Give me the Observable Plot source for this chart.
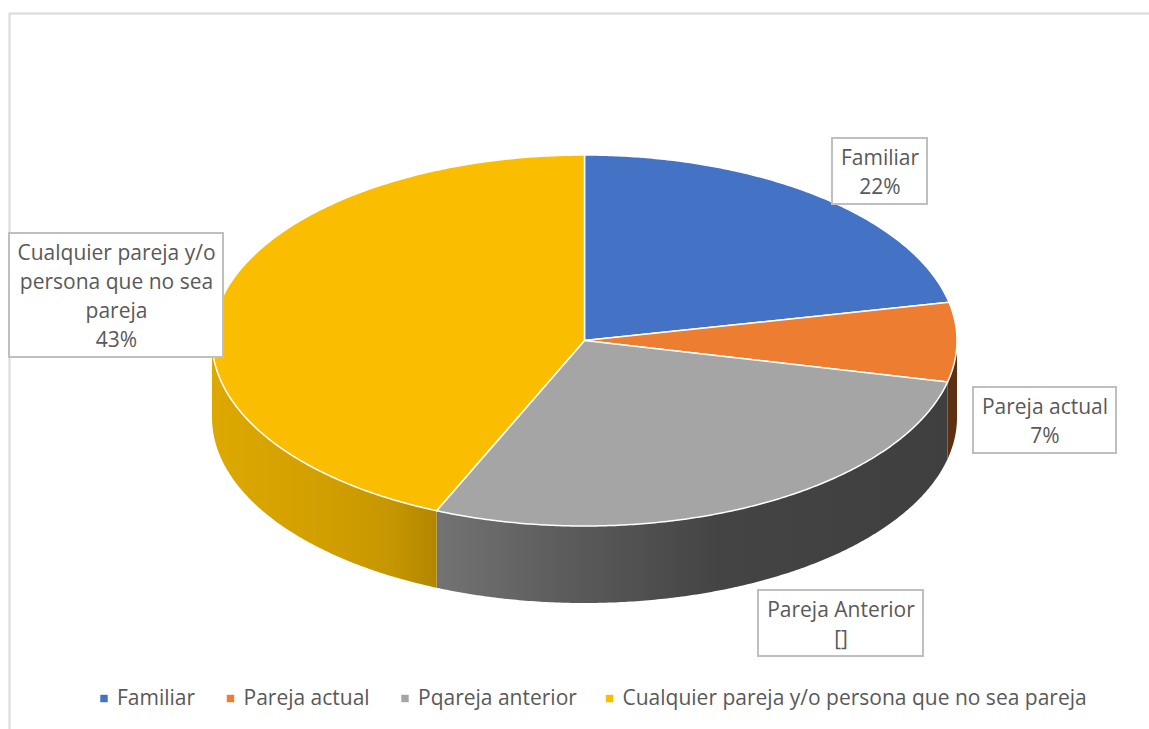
<!DOCTYPE html>
<html>
<head>
<meta charset="utf-8">
<script src="https://cdn.jsdelivr.net/npm/d3@7"></script>
<script src="https://cdn.jsdelivr.net/npm/@observablehq/plot@0.6"></script>
<style>html,body{margin:0;padding:0;background:#fff;overflow:hidden}svg{display:block}</style>
</head>
<body>
<div id="chart"></div>
<script>
// Data
const categories = ["Familiar", "Pareja actual", "Pareja Anterior", "Cualquier pareja y/o persona que no sea pareja"];
const shares = [21.7, 6.9, 27.9, 43.5];
const sliceLabels = ["Familiar\n22%", "Pareja actual\n7%", "Pareja Anterior\n[]", "Cualquier pareja y/o\npersona que no sea\npareja\n43%"];
const legendLabels = ["Familiar", "Pareja actual", "Pqareja anterior", "Cualquier pareja y/o persona que no sea pareja"];
const colors = ["#4472c4", "#ed7d31", "#a5a5a5", "#fbbd00"];

// Layout (pixels)
const W = 1149, H = 729, cx = 584.5, cy = 340.5, rx = 372.5, ry = 185.5, depthPx = 77;
const X = (px) => (px - cx) / rx, Y = (py) => (cy - py) / ry;
const depth = depthPx / ry;
const labelBoxes = [[832, 927, 138, 204], [973, 1116, 387, 453], [758, 923, 590, 656], [9, 223, 233, 357]];
const legendX = [103.5, 230, 404.5, 609];
const legendY = 698;
const font = "'Open Sans', sans-serif";

// Geometry derived from the values
const total = d3.sum(shares);
const ends = d3.cumsum(shares).map((d) => d / total * 2 * Math.PI);
const slices = categories.map((name, i) => ({name, i, a0: i ? ends[i - 1] : 0, a1: ends[i]}));
const rim = (a) => ({x: Math.sin(a), y: Math.cos(a)});
const arc = (a0, a1) => {
  const n = Math.max(2, Math.ceil((a1 - a0) * 120));
  return d3.range(n + 1).map((k) => a0 + (a1 - a0) * k / n);
};
const topRows = slices.flatMap((s) => arc(s.a0, s.a1).map((a) => ({name: s.name, ...rim(a)})));
const wallRows = (s) => {
  const a0 = Math.max(s.a0, Math.PI / 2), a1 = Math.min(s.a1, 3 * Math.PI / 2);
  return a1 > a0 ? arc(a0, a1).map(rim) : [];
};
const edges = ends.filter((a) => a > Math.PI / 2 && a < 3 * Math.PI / 2).map(rim);

const defs = () => {
  const d = d3.create("svg:defs");
  const grad = (id, stops) => {
    const g = d.append("linearGradient").attr("id", id).attr("x1", 0).attr("x2", 1).attr("y1", 0).attr("y2", 0);
    stops.forEach(([o, c]) => g.append("stop").attr("offset", o).attr("stop-color", c));
  };
  grad("wallGrey", [[0, "#737373"], [0.25, "#5c5c5c"], [0.55, "#444444"], [1, "#3f3f3f"]]);
  grad("wallYellow", [[0, "#dda800"], [0.55, "#d09e00"], [0.8, "#c69600"], [1, "#b28700"]]);
  return d.node();
};
const wall = (i, fill) => Plot.area(wallRows(slices[i]), {
  x1: "x", y1: "y", x2: "x", y2: (d) => d.y - depth, fill
});
const boxes = labelBoxes.map(([a, b, c, d], i) => ({x1: X(a), x2: X(b), y1: Y(c), y2: Y(d), label: sliceLabels[i]}));
const legend = legendLabels.map((label, i) => ({label, i, x: X(legendX[i]), tx: X(legendX[i] + 13), y: Y(legendY)}));

const chart = Plot.plot({
  width: W, height: H, margin: 0,
  style: {background: "#fff", fontFamily: font},
  x: {domain: [-1, 1], range: [cx - rx, cx + rx], axis: null},
  y: {domain: [1, -1], range: [cy - ry, cy + ry], axis: null},
  color: {domain: categories, range: colors},
  marks: [
    defs,
    Plot.ruleY([Y(13)], {x1: X(9), x2: X(W), stroke: "#d9d9d9", strokeWidth: 2}),
    Plot.ruleX([X(9)], {y1: Y(13), y2: Y(H), stroke: "#d9d9d9", strokeWidth: 2}),
    wall(1, "#5e2f10"),
    wall(2, "url(#wallGrey)"),
    wall(3, "url(#wallYellow)"),
    Plot.link(edges, {x1: "x", y1: "y", x2: "x", y2: (d) => d.y - depth, stroke: "#fff", strokeOpacity: 0.8, strokeWidth: 1.2}),
    Plot.area(topRows, {x1: () => 0, y1: () => 0, x2: "x", y2: "y", z: "name", fill: "name", stroke: "#fff", strokeWidth: 1.5, strokeLinejoin: "round"}),
    Plot.rect(boxes, {x1: "x1", x2: "x2", y1: "y1", y2: "y2", fill: "#fff", stroke: "#bfbfbf", strokeWidth: 2}),
    Plot.text(boxes, {x: (d) => (d.x1 + d.x2) / 2, y: (d) => (d.y1 + d.y2) / 2, dy: -1, text: "label", fill: "#595959", fontSize: 21, lineHeight: 1.38, fontFamily: font}),
    Plot.dot(legend, {x: "x", y: "y", symbol: "square", r: 4.2, fill: (d) => categories[d.i], stroke: null}),
    Plot.text(legend, {x: "tx", y: "y", text: "label", textAnchor: "start", fill: "#595959", fontSize: 21, fontFamily: font})
  ]
});
document.getElementById("chart").append(chart);
</script>
</body>
</html>
